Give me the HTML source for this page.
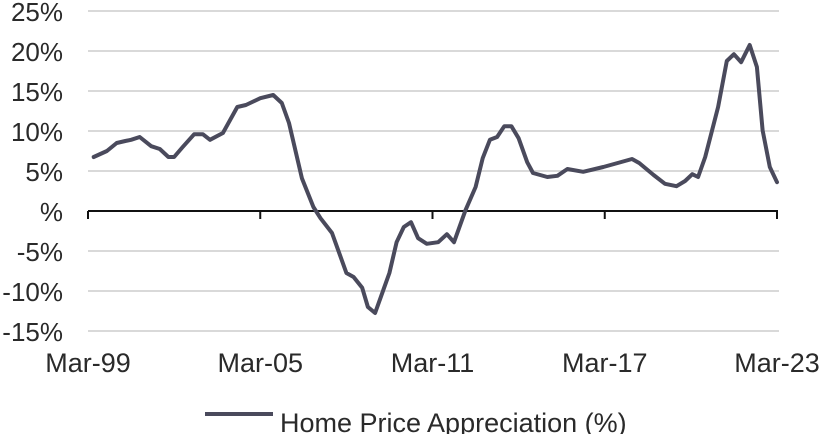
<!DOCTYPE html>
<html><head><meta charset="utf-8"><style>
html,body{margin:0;padding:0;background:#fff;}
svg{display:block;font-family:"Liberation Sans",Arial,sans-serif;}
</style></head><body>
<svg id="chart" width="828" height="434" viewBox="0 0 828 434" xmlns="http://www.w3.org/2000/svg">
<g id="grid"></g>
<g id="ylabels"></g>
<g id="xaxis"></g>
<g id="series"></g>
<g>
<line x1="205" y1="414" x2="273" y2="414" stroke="#4a4a5c" stroke-width="4"/>
<text x="280" y="432" font-size="27" fill="#2a2a2a">Home Price Appreciation (%)</text>
</g>
</svg>
<script>
const yTicks=[25,20,15,10,5,0,-5,-10,-15];
const yTickLabels=["25%","20%","15%","10%","5%","%","-5%","-10%","-15%"];
const xTickYears=[1999,2005,2011,2017,2023];
const xTickLabels=["Mar-99","Mar-05","Mar-11","Mar-17","Mar-23"];
const years=[1999.2,1999.66,2000.0,2000.3,2000.5,2000.8,2001.2,2001.5,2001.8,2002.0,2002.3,2002.7,2003.0,2003.25,2003.7,2004.2,2004.5,2005.0,2005.45,2005.75,2006.0,2006.45,2006.85,2007.1,2007.5,2008.0,2008.25,2008.55,2008.75,2009.0,2009.5,2009.75,2010.0,2010.25,2010.5,2010.8,2011.2,2011.5,2011.75,2012.15,2012.5,2012.75,2013.0,2013.25,2013.5,2013.75,2014.0,2014.3,2014.5,2015.0,2015.35,2015.7,2016.25,2016.95,2017.45,2017.95,2018.2,2018.7,2019.1,2019.5,2019.8,2020.05,2020.25,2020.5,2020.95,2021.25,2021.5,2021.75,2022.05,2022.3,2022.5,2022.75,2023.0];
const values=[6.75,7.5,8.5,8.75,8.9,9.25,8.1,7.75,6.75,6.75,8.0,9.6,9.6,8.9,9.75,13.0,13.25,14.1,14.5,13.5,11.0,4.1,0.5,-0.9,-2.75,-7.75,-8.25,-9.6,-12.0,-12.75,-7.75,-3.9,-2.0,-1.4,-3.4,-4.1,-3.9,-2.9,-3.9,0.1,3.0,6.6,8.9,9.25,10.6,10.6,9.1,6.1,4.75,4.25,4.4,5.25,4.9,5.5,6.0,6.5,6.0,4.5,3.4,3.1,3.75,4.6,4.25,6.75,13.0,18.75,19.6,18.6,20.75,18.0,10.1,5.5,3.6];

const X0=88,X1=777,Y0=211,PX=8;
const xs=y=>X0+(y-1999)*(X1-X0)/24;
const ys=v=>Y0-v*PX;
const NS="http://www.w3.org/2000/svg";
function mk(tag,attrs,parent){const e=document.createElementNS(NS,tag);for(const k in attrs)e.setAttribute(k,attrs[k]);parent.appendChild(e);return e;}
const grid=document.getElementById('grid'),yl=document.getElementById('ylabels'),xa=document.getElementById('xaxis'),se=document.getElementById('series');
yTicks.forEach((t,i)=>{
  if(t!==0){const l=mk('line',{x1:X0,x2:X1+2,y1:ys(t),y2:ys(t),stroke:'#d9d9d9','stroke-width':2},grid);
  
  }
  const tx=mk('text',{x:63,y:ys(t)+10,'text-anchor':'end','font-size':26,fill:'#2a2a2a'},yl);
  tx.textContent=yTickLabels[i];
  
  
});
const ax=mk('line',{x1:X0,x2:X1+1,y1:Y0,y2:Y0,stroke:'#111','stroke-width':2},xa);


xTickYears.forEach((yr,i)=>{
  const tk=mk('line',{x1:xs(yr),x2:xs(yr),y1:Y0,y2:Y0+8,stroke:'#111','stroke-width':2},xa);
  
  
  const tx=mk('text',{x:xs(yr),y:372,'text-anchor':'middle','font-size':27,fill:'#2a2a2a'},xa);
  tx.textContent=xTickLabels[i];
  
  
});
const d=years.map((y,i)=>(i?'L':'M')+xs(y).toFixed(1)+','+ys(values[i]).toFixed(1)).join(' ');
const p=mk('path',{d:d,fill:'none',stroke:'#4a4a5c','stroke-width':4,'stroke-linejoin':'round','stroke-linecap':'round'},se);


</script>
</body></html>
